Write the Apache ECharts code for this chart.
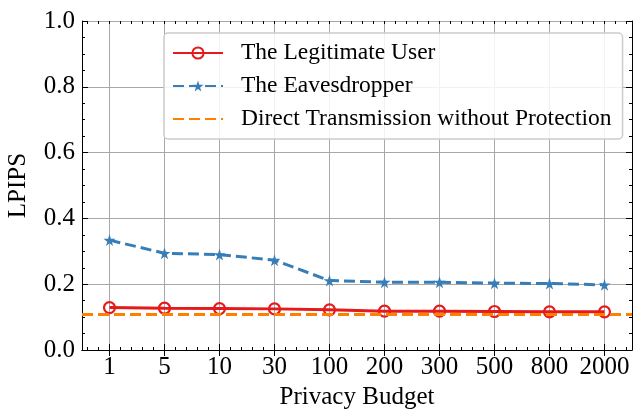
<!DOCTYPE html>
<html>
<head>
<meta charset="utf-8">
<script src="https://cdn.jsdelivr.net/npm/echarts@6/dist/echarts.min.js"></script>
<style>html,body{margin:0;padding:0;background:#fff}#c{width:636px;height:409px}</style>
</head>
<body>
<div id="c"></div>
<script>
const categories = ['1','5','10','30','100','200','300','500','800','2000'];
const legitimateUser = [0.129,0.127,0.126,0.125,0.122,0.118,0.118,0.117,0.116,0.116];
const eavesdropper = [0.334,0.294,0.290,0.273,0.211,0.206,0.206,0.203,0.202,0.198];
const directTransmission = 0.112;
const yTicks = [0,0.2,0.4,0.6,0.8,1.0];

const FONT = 'Liberation Serif';
const minorCats = Array.from({length: categories.length * 5}, (_, i) => String(i));
const gridHelperCats = Array.from({length: categories.length * 2 + 1}, (_, i) => String(i));
const STAR = 'path://M50,0 L61,35 L98,35 L68,57 L79,91 L50,70 L21,91 L32,57 L2,35 L39,35 Z';
const gridColor = '#a8a8a8';

function catAxis(data, pos, tickLen, main) {
  return {
    type: 'category', data: data, position: pos, boundaryGap: true,
    axisLine: {show: main, lineStyle: {color: '#000', width: 1}},
    axisTick: {show: true, inside: true, alignWithLabel: true, interval: 0, length: tickLen, lineStyle: {color: '#000', width: 1}},
    axisLabel: {show: main && pos === 'bottom', interval: 0, fontFamily: FONT, fontSize: 25, color: '#000', margin: 5},
    splitLine: {show: false}
  };
}
function valAxis(pos, main) {
  return {
    type: 'value', position: pos, min: 0, max: 1, interval: 0.2,
    axisLine: {show: true, lineStyle: {color: '#000', width: 1}},
    axisTick: {show: true, inside: true, length: 6, lineStyle: {color: '#000'}},
    minorTick: {show: true, splitNumber: 4, length: 3, lineStyle: {color: '#000'}},
    axisLabel: {show: main, fontFamily: FONT, fontSize: 25, color: '#000', margin: 7, formatter: v => v.toFixed(1)},
    splitLine: {show: main, lineStyle: {color: gridColor, width: 1}},
    name: main ? 'LPIPS' : '', nameLocation: 'middle', nameGap: 51,
    nameTextStyle: {fontFamily: FONT, fontSize: 25, color: '#000'}
  };
}

const xMain = catAxis(categories, 'bottom', 6, true);
xMain.name = 'Privacy Budget';
xMain.nameLocation = 'middle';
xMain.nameGap = 35;
xMain.nameTextStyle = {fontFamily: FONT, fontSize: 25, color: '#000'};
const xTop = catAxis(categories, 'top', 6, false);
xTop.axisLine = {show: true, lineStyle: {color: '#000', width: 1}};
// helper axis only used to place vertical grid lines at category centres
const xGrid = {
  type: 'category', data: gridHelperCats, position: 'bottom', boundaryGap: false,
  axisLine: {show: false}, axisTick: {show: false}, axisLabel: {show: false},
  splitLine: {show: true, interval: (i) => i % 2 === 1, lineStyle: {color: gridColor, width: 1}}
};

const chart = echarts.init(document.getElementById('c'), null, {renderer: 'canvas'});
chart.setOption({
  animation: false,
  grid: {left: 82, right: 4, top: 21, bottom: 59, containLabel: false, outerBoundsMode: 'none'},
  xAxis: [xMain, xTop, catAxis(minorCats, 'bottom', 3, false), catAxis(minorCats, 'top', 3, false), xGrid],
  yAxis: [valAxis('left', true), valAxis('right', false)],
  legend: {
    orient: 'vertical', left: 164, top: 33,
    padding: [8, 11, 8, 8],
    itemWidth: 50, itemHeight: 14, itemGap: 9,
    borderColor: '#cccccc', borderWidth: 1.5, borderRadius: 4,
    backgroundColor: 'rgba(255,255,255,0.85)',
    textStyle: {fontFamily: FONT, fontSize: 23.5, color: '#000', padding: [0, 0, 0, 13]},
    data: [
      {name: 'The Legitimate User'},
      {name: 'The Eavesdropper'},
      {name: 'Direct Transmission without Protection', itemStyle: {opacity: 0}}
    ]
  },
  series: [
    {
      name: 'The Legitimate User', type: 'line', data: legitimateUser,
      color: '#e41a1c',
      symbol: 'circle', symbolSize: 11,
      lineStyle: {color: '#e41a1c', width: 3},
      itemStyle: {color: 'rgba(255,255,255,0)', borderColor: '#e41a1c', borderWidth: 2.2},
      z: 3
    },
    {
      name: 'The Eavesdropper', type: 'line', data: eavesdropper,
      color: '#377eb8',
      symbol: STAR, symbolSize: 12,
      lineStyle: {color: '#377eb8', width: 3, type: [11, 5]},
      itemStyle: {color: '#377eb8'},
      z: 3
    },
    {
      name: 'Direct Transmission without Protection', type: 'line', data: [],
      color: '#ff7f00',
      symbol: 'none',
      lineStyle: {color: '#ff7f00', width: 3, type: [11, 5]},
      markLine: {
        silent: true, symbol: 'none', label: {show: false},
        lineStyle: {color: '#ff7f00', width: 3, type: [11, 5]},
        data: [{yAxis: directTransmission}]
      },
      z: 4
    }
  ]
});
</script>
</body>
</html>
